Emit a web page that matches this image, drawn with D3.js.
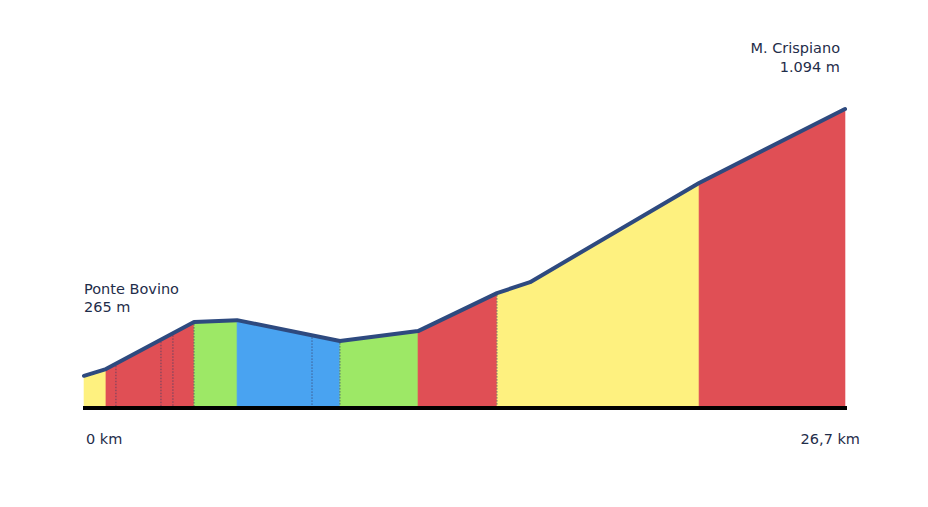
<!DOCTYPE html>
<html><head><meta charset="utf-8">
<script src="https://cdn.jsdelivr.net/npm/d3@7"></script>
<style>html,body{margin:0;padding:0;background:#fff;}svg{display:block;}</style>
</head><body>
<svg id="chart" width="928" height="507"></svg>
<script>
// Profile points: distance (km) and elevation (m)
const distances = [0, 0.77, 3.86, 5.37, 8.98, 11.72, 14.49, 15.65, 21.58, 26.7];
const elevations = [265, 286, 432, 438, 373, 404, 522, 556, 864, 1094];
// Coloured gradient segments (start km, end km, class)
const segStarts = [0, 0.77, 3.86, 5.37, 8.98, 11.72, 14.49, 21.58];
const segEnds   = [0.77, 3.86, 5.37, 8.98, 11.72, 14.49, 21.58, 26.7];
const segClass  = ["y", "r", "g", "b", "g", "r", "y", "r"];
// Dotted sub-division markers (km)
const markers = [1.12, 2.70, 3.12, 3.86, 8.00, 8.98, 14.49];
// Labels
const startName = "Ponte Bovino", startElev = "265 m";
const endName = "M. Crispiano", endElev = "1.094 m";
const startKm = "0 km", endKm = "26,7 km";

const colors = {y: "#fef17f", r: "#e04f55", g: "#9de866", b: "#49a3f1"};
const lineColor = "#2e4a7f";
const textColor = "#1f2d4a";

const svg = d3.select("#chart");
const x = d3.scaleLinear().domain([0, 26.7]).range([84, 845]);
const y = d3.scaleLinear().domain([165, 1094]).range([408, 109]);

const pts = distances.map((d, i) => ({d, e: elevations[i]}));
function elevAt(k) {
  for (let i = 0; i < pts.length - 1; i++) {
    if (k >= pts[i].d && k <= pts[i + 1].d) {
      const t = (k - pts[i].d) / (pts[i + 1].d - pts[i].d);
      return pts[i].e + t * (pts[i + 1].e - pts[i].e);
    }
  }
  return pts[pts.length - 1].e;
}

const area = d3.area().x(p => x(p.d)).y0(y(165)).y1(p => y(p.e));
segStarts.forEach((s, i) => {
  const e = segEnds[i];
  const inner = pts.filter(p => p.d > s && p.d < e);
  const seg = [{d: s, e: elevAt(s)}, ...inner, {d: e, e: elevAt(e)}];
  svg.append("path").attr("d", area(seg)).attr("fill", colors[segClass[i]])
    .attr("stroke", colors[segClass[i]]).attr("stroke-width", 0.6);
});

markers.forEach(k => {
  svg.append("line").attr("x1", x(k)).attr("x2", x(k))
    .attr("y1", y(elevAt(k)) + 2).attr("y2", y(165))
    .attr("stroke", "#3a3f66").attr("stroke-width", 1)
    .attr("stroke-dasharray", "1.5,1.5").attr("opacity", 0.7);
});

const line = d3.line().x(p => x(p.d)).y(p => y(p.e));
svg.append("path").attr("d", line(pts)).attr("fill", "none")
  .attr("stroke", lineColor).attr("stroke-width", 4)
  .attr("stroke-linejoin", "round").attr("stroke-linecap", "round");

svg.append("line").attr("x1", x(0) - 1).attr("x2", x(26.7) + 2)
  .attr("y1", y(165)).attr("y2", y(165))
  .attr("stroke", "#000").attr("stroke-width", 4);

const font = "'DejaVu Sans', Verdana, sans-serif";
function txt(t, xx, yy, anchor) {
  svg.append("text").text(t).attr("x", xx).attr("y", yy)
    .attr("text-anchor", anchor).attr("font-family", font)
    .attr("font-size", 14.5).attr("fill", textColor);
}
txt(startName, x(0), 294, "start");
txt(startElev, x(0), 312, "start");
txt(endName, 840, 53, "end");
txt(endElev, 840, 72, "end");
txt(startKm, 86, 444, "start");
txt(endKm, 860, 444, "end");
</script>
</body></html>
